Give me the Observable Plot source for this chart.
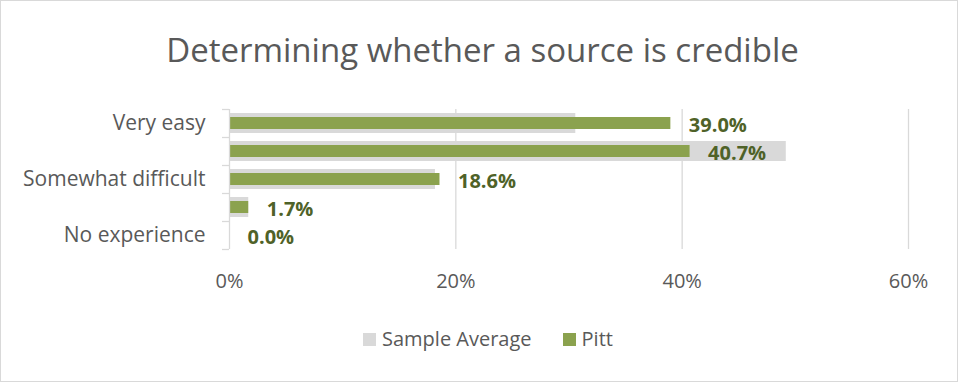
<!DOCTYPE html>
<html><head><meta charset="utf-8">
<script src="https://cdn.jsdelivr.net/npm/d3@7"></script>
<script src="https://cdn.jsdelivr.net/npm/@observablehq/plot@0.6"></script>
<style>
body{margin:0;background:#fff;font-family:"Open Sans",sans-serif;}
#frame{position:absolute;left:0;top:0;width:956px;height:380px;border:1px solid #d9d9d9;}
#title{position:absolute;left:0;width:965px;top:28px;text-align:center;font-size:33px;color:#595959;line-height:44px;white-space:nowrap;}
#chart{position:absolute;left:0;top:90px;}
#legend{position:absolute;left:363px;top:325px;display:flex;align-items:center;font-size:20px;color:#595959;line-height:28px;}
.sw{width:13px;height:13px;margin-right:6px;}
.item{display:flex;align-items:center;margin-right:31px;}
</style></head>
<body>
<div id="frame"></div>
<div id="title">Determining whether a source is credible</div>
<div id="chart"></div>
<div id="legend"></div>
<script>
const categories = ["Very easy", "Somewhat easy", "Somewhat difficult", "Very difficult", "No experience"];
const shownLabels = ["Very easy", "Somewhat difficult", "No experience"];
const sampleAverage = [30.6, 49.2, 18.2, 1.7, 0.0];
const pitt = [39.0, 40.7, 18.6, 1.7, 0.0];
const xTicks = [0, 20, 40, 60];
const seriesNames = ["Sample Average", "Pitt"];
const seriesColors = ["#d9d9d9", "#8ba24e"];

const data = categories.map((c, i) => ({cat: c, sample: sampleAverage[i], pitt: pitt[i]}));

const chart = Plot.plot({
  width: 961,
  height: 210,
  marginLeft: 229,
  marginRight: 53,
  marginTop: 19,
  marginBottom: 51,
  style: {fontFamily: "Open Sans, sans-serif", fontSize: "20px", color: "#595959", background: "transparent"},
  x: {domain: [0, 60], label: null},
  y: {domain: categories, padding: 0, label: null},
  marks: [
    Plot.ruleX(xTicks.slice(1), {stroke: "#d9d9d9", strokeWidth: 1.3}),
    Plot.barX(data, {x: "sample", y: "cat", fill: seriesColors[0], insetTop: 4, insetBottom: 4}),
    Plot.barX(data, {x: "pitt", y: "cat", fill: seriesColors[1], insetTop: 8, insetBottom: 8}),
    Plot.ruleX([0], {stroke: "#d9d9d9", strokeWidth: 1.3}),
    Plot.ruleY(categories, {x1: -0.62, x2: 0, dy: -14, stroke: "#d9d9d9", strokeWidth: 1.3}),
    Plot.ruleY(categories.slice(-1), {x1: -0.62, x2: 0, dy: 14, stroke: "#d9d9d9", strokeWidth: 1.3}),
    Plot.text(data, {x: "pitt", y: "cat", text: d => d.pitt.toFixed(1) + "%", dx: 18, dy: 2, textAnchor: "start", fill: "#4f6228", fontWeight: "bold", fontSize: 20}),
    Plot.axisY({tickSize: 0, tickPadding: 24, label: null, tickFormat: d => shownLabels.includes(d) ? d : "", fontSize: 21}),
    Plot.axisX({ticks: xTicks, tickFormat: d => d + "%", tickSize: 0, tickPadding: 24, label: null, fontSize: 20})
  ]
});
document.getElementById("chart").appendChild(chart);

const legend = document.getElementById("legend");
seriesNames.forEach((name, i) => {
  const item = document.createElement("div");
  item.className = "item";
  const sw = document.createElement("div");
  sw.className = "sw";
  sw.style.background = seriesColors[i];
  const label = document.createElement("span");
  label.textContent = name;
  item.appendChild(sw);
  item.appendChild(label);
  legend.appendChild(item);
});
</script>
</body></html>
